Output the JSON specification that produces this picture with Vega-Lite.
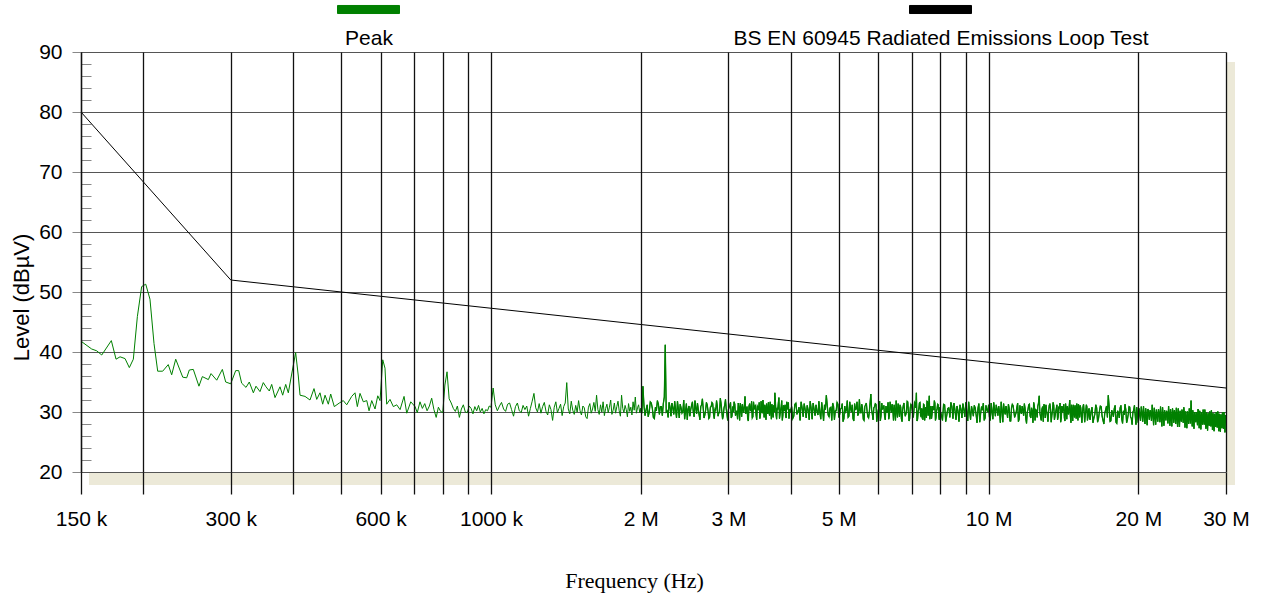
{
"$schema": "https://vega.github.io/schema/vega-lite/v6.json",
"width": 1145,
"height": 420,
"autosize": {"type": "none"},
"padding": {"left": 81, "top": 52, "right": 36, "bottom": 124},
"background": "white",
"datasets": {
"limit": [{"f":150,"v":80},{"f":300,"v":52},{"f":30000,"v":34}],
"peak": [
{"f":150,"v":41.8},{"f":157.6,"v":40.5},{"f":161.3,"v":40.2},{"f":165.1,"v":39.5},{"f":172.6,"v":41.9},{"f":176.4,"v":38.8},{"f":179.7,"v":39.2},{"f":183.9,"v":38.9},{"f":187.6,"v":37.4},{"f":191.1,"v":38.8},{"f":194.7,"v":45.9},{"f":198.6,"v":50.9},{"f":202.4,"v":51.3},{"f":206.4,"v":48.8},{"f":210.3,"v":41.4},{"f":213.9,"v":36.8},{"f":218.9,"v":36.8},{"f":224.6,"v":37.9},{"f":228.2,"v":36.2},{"f":232.5,"v":38.8},{"f":240.2,"v":35.8},{"f":244.6,"v":35.7},{"f":247.6,"v":37.0},{"f":252.2,"v":37.1},{"f":258.9,"v":34.3},{"f":263.0,"v":35.9},{"f":270.4,"v":35.4},{"f":273.8,"v":36.4},{"f":281.1,"v":35.3},{"f":288.5,"v":37.1},{"f":293.0,"v":35.0},{"f":299.9,"v":34.7},{"f":306.9,"v":36.9},{"f":311.2,"v":36.9},{"f":315.5,"v":34.8},{"f":321.9,"v":34.1},{"f":326.8,"v":35.0},{"f":333.0,"v":33.2},{"f":337.1,"v":34.3},{"f":343.4,"v":33.4},{"f":348.7,"v":34.9},{"f":353.1,"v":34.2},{"f":358.5,"v":33.5},{"f":362.5,"v":34.6},{"f":368.1,"v":32.4},{"f":376.7,"v":34.2},{"f":381.4,"v":32.8},{"f":386.8,"v":34.6},{"f":391.5,"v":33.2},{"f":398,"v":36.5},{"f":405,"v":39.9},{"f":410,"v":36.0},{"f":413.3,"v":32.8},{"f":423.0,"v":32.6},{"f":432.8,"v":32.0},{"f":440.9,"v":33.9},{"f":446.5,"v":32.1},{"f":453.3,"v":33.2},{"f":459.0,"v":31.3},{"f":464.0,"v":32.8},{"f":471.1,"v":31.3},{"f":476.3,"v":33.0},{"f":484.3,"v":30.9},{"f":495.7,"v":31.5},{"f":504.9,"v":31.9},{"f":513.0,"v":31.2},{"f":524.9,"v":32.6},{"f":533.0,"v":33.2},{"f":538.8,"v":30.9},{"f":545.5,"v":33.1},{"f":553.9,"v":31.7},{"f":562.8,"v":31.9},{"f":568.8,"v":30.2},{"f":575.9,"v":31.9},{"f":584.8,"v":30.5},{"f":592.2,"v":32.7},{"f":598.5,"v":31.9},{"f":606.0,"v":38.7},{"f":612.4,"v":37.3},{"f":617.2,"v":31.3},{"f":626.8,"v":32.1},{"f":636.5,"v":30.9},{"f":646.5,"v":31.2},{"f":656.6,"v":30.4},{"f":668.8,"v":32.6},{"f":677.2,"v":29.8},{"f":689.9,"v":31.7},{"f":703.7,"v":30.9},{"f":711,"v":29.9},
{"f":720,"v":31.7},{"f":728,"v":30.6},{"f":736,"v":31.4},{"f":744,"v":30.2},{"f":752,"v":31.0},{"f":760,"v":32.3},{"f":768,"v":30.4},{"f":776,"v":29.1},{"f":784,"v":30.8},{"f":792,"v":30.1},{"f":800,"v":29.9},{"f":808,"v":34.5},{"f":816,"v":36.7},{"f":824,"v":32.2},{"f":832,"v":31.5},{"f":840,"v":30.6},{"f":848,"v":30.1},{"f":856,"v":31.0},{"f":864,"v":29.1},{"f":872,"v":30.5},{"f":880,"v":31.2},{"f":888,"v":30.0},{"f":896,"v":29.9},{"f":904,"v":31.0},{"f":912,"v":30.6},{"f":920,"v":29.7},{"f":928,"v":30.9},{"f":936,"v":30.2},{"f":944,"v":31.1},{"f":952,"v":30.0},{"f":960,"v":30.6},{"f":968,"v":29.7},{"f":976,"v":30.4},{"f":984,"v":30.2},{"f":992,"v":31.0},
{"f":1000,"v":30.8},{"f":1010,"v":34.0},{"f":1020,"v":31.2},{"f":1030,"v":30.2},{"f":1040,"v":31.0},{"f":1050,"v":31.6},{"f":1060,"v":30.5},{"f":1070,"v":30.1},{"f":1080,"v":31.3},{"f":1090,"v":31.5},{"f":1100,"v":30.4},{"f":1110,"v":29.3},{"f":1120,"v":30.9},{"f":1130,"v":31.5},{"f":1140,"v":30.2},{"f":1150,"v":29.9},{"f":1160,"v":31.1},{"f":1170,"v":30.4},{"f":1180,"v":31.0},{"f":1190,"v":29.3},{"f":1200,"v":30.6},{"f":1210,"v":31.8},{"f":1220,"v":33.1},{"f":1230,"v":30.7},{"f":1240,"v":30.0},{"f":1250,"v":31.4},{"f":1260,"v":29.8},{"f":1270,"v":30.9},{"f":1280,"v":31.6},{"f":1290,"v":30.1},{"f":1300,"v":29.5},{"f":1310,"v":31.2},{"f":1320,"v":30.4},{"f":1330,"v":28.6},{"f":1340,"v":30.8},{"f":1350,"v":31.7},{"f":1360,"v":29.9},{"f":1370,"v":30.6},{"f":1380,"v":31.3},{"f":1390,"v":29.4},{"f":1400,"v":30.9},{"f":1410,"v":31.5},{"f":1420,"v":34.9},{"f":1430,"v":30.5},{"f":1440,"v":29.7},{"f":1450,"v":31.8},{"f":1460,"v":30.3},{"f":1470,"v":29.6},{"f":1480,"v":31.1},{"f":1490,"v":30.0},{"f":1500,"v":31.9},{"f":1510,"v":30.2},{"f":1520,"v":29.5},{"f":1530,"v":31.0},{"f":1540,"v":30.7},{"f":1550,"v":29.2},{"f":1560,"v":28.9},{"f":1570,"v":30.8},{"f":1580,"v":31.4},{"f":1590,"v":29.8},{"f":1600,"v":30.5},{"f":1610,"v":31.6},{"f":1620,"v":30.1},{"f":1630,"v":32.8},{"f":1640,"v":30.4},{"f":1650,"v":29.6},{"f":1660,"v":31.2},{"f":1670,"v":30.0},{"f":1680,"v":31.7},{"f":1690,"v":29.4},{"f":1700,"v":30.6},{"f":1710,"v":31.3},{"f":1720,"v":29.9},{"f":1730,"v":30.8},{"f":1740,"v":32.0},{"f":1750,"v":29.6},{"f":1760,"v":30.3},{"f":1770,"v":31.5},{"f":1780,"v":29.8},{"f":1790,"v":30.9},{"f":1800,"v":31.8},{"f":1810,"v":30.2},{"f":1820,"v":29.3},{"f":1830,"v":32.8},{"f":1840,"v":30.6},{"f":1850,"v":29.9},{"f":1860,"v":31.1},{"f":1870,"v":30.4},{"f":1880,"v":29.2},{"f":1890,"v":31.4},{"f":1900,"v":30.1},{"f":1910,"v":30.8},{"f":1920,"v":29.5},{"f":1930,"v":31.7},{"f":1940,"v":30.3},{"f":1950,"v":32.5},{"f":1960,"v":29.8},{"f":1970,"v":30.7},{"f":1980,"v":31.2},{"f":1990,"v":29.9},
{"f":2000,"v":30.6},{"f":2020,"v":34.3},{"f":2040,"v":29.4},{"f":2060,"v":31.2},{"f":2080,"v":30.0},{"f":2100,"v":31.5},{"f":2120,"v":29.1},{"f":2140,"v":30.8},{"f":2160,"v":31.9},{"f":2180,"v":29.6},{"f":2200,"v":30.9},{"f":2220,"v":31.4},{"f":2240,"v":41.2},{"f":2260,"v":30.2},{"f":2280,"v":31.6},{"f":2300,"v":29.3},{"f":2320,"v":30.7},{"f":2340,"v":31.8},{"f":2360,"v":29.0},{"f":2380,"v":30.5},{"f":2400,"v":31.3},{"f":2420,"v":29.8},{"f":2440,"v":32.0},{"f":2460,"v":30.1},{"f":2480,"v":28.7},{"f":2500,"v":31.0},{"f":2520,"v":30.4},{"f":2540,"v":31.7},{"f":2560,"v":29.2},{"f":2580,"v":30.6},{"f":2600,"v":31.5},{"f":2620,"v":29.5},{"f":2640,"v":30.9},{"f":2660,"v":32.2},{"f":2680,"v":29.0},{"f":2700,"v":30.3},{"f":2720,"v":31.2},{"f":2740,"v":28.9},{"f":2760,"v":30.8},{"f":2780,"v":31.6},{"f":2800,"v":29.7},{"f":2820,"v":30.5},{"f":2840,"v":31.9},{"f":2860,"v":29.3},{"f":2880,"v":30.0},{"f":2900,"v":31.4},{"f":2920,"v":28.8},{"f":2940,"v":30.7},{"f":2960,"v":32.1},{"f":2980,"v":29.6},{"f":3000,"v":30.4},{"f":3020,"v":31.1},{"f":3040,"v":29.0},{"f":3060,"v":30.9},{"f":3080,"v":31.7},{"f":3100,"v":29.4},{"f":3120,"v":30.2},{"f":3140,"v":31.5},{"f":3160,"v":28.6},{"f":3180,"v":30.6},{"f":3200,"v":31.3},{"f":3220,"v":29.9},{"f":3240,"v":32.6},{"f":3260,"v":30.1},{"f":3280,"v":28.9},{"f":3300,"v":31.0},{"f":3320,"v":30.3},{"f":3340,"v":31.8},{"f":3360,"v":29.2},{"f":3380,"v":30.5},{"f":3400,"v":31.2},{"f":3420,"v":28.7},{"f":3440,"v":30.8},{"f":3460,"v":31.6},{"f":3480,"v":29.5},{"f":3500,"v":30.2},{"f":3520,"v":32.0},{"f":3540,"v":29.1},{"f":3560,"v":30.6},{"f":3580,"v":31.4},{"f":3600,"v":29.7},{"f":3620,"v":30.0},{"f":3640,"v":31.7},{"f":3660,"v":28.8},{"f":3680,"v":30.4},{"f":3700,"v":31.1},{"f":3720,"v":33.2},{"f":3740,"v":29.6},{"f":3760,"v":30.7},{"f":3780,"v":31.5},{"f":3800,"v":28.9},{"f":3820,"v":30.3},{"f":3840,"v":31.9},{"f":3860,"v":29.4},{"f":3880,"v":30.8},{"f":3900,"v":31.2},{"f":3920,"v":29.0},{"f":3940,"v":30.5},{"f":3960,"v":31.6},{"f":3980,"v":29.7},
{"f":4000,"v":30.2},{"f":4040,"v":28.9},{"f":4080,"v":31.3},{"f":4120,"v":29.6},{"f":4160,"v":30.8},{"f":4200,"v":31.7},{"f":4240,"v":29.2},{"f":4280,"v":30.4},{"f":4320,"v":31.1},{"f":4360,"v":28.7},{"f":4400,"v":30.6},{"f":4440,"v":31.5},{"f":4480,"v":29.4},{"f":4520,"v":30.1},{"f":4560,"v":31.8},{"f":4600,"v":28.8},{"f":4640,"v":30.3},{"f":4680,"v":31.2},{"f":4720,"v":32.8},{"f":4760,"v":29.5},{"f":4800,"v":30.7},{"f":4840,"v":28.6},{"f":4880,"v":31.0},{"f":4920,"v":30.2},{"f":4960,"v":31.6},{"f":5000,"v":29.1},{"f":5040,"v":30.5},{"f":5080,"v":31.4},{"f":5120,"v":28.9},{"f":5160,"v":30.0},{"f":5200,"v":31.9},{"f":5240,"v":29.3},{"f":5280,"v":30.6},{"f":5320,"v":31.2},{"f":5360,"v":28.5},{"f":5400,"v":30.4},{"f":5440,"v":31.7},{"f":5480,"v":29.7},{"f":5520,"v":30.2},{"f":5560,"v":31.3},{"f":5600,"v":28.8},{"f":5640,"v":30.9},{"f":5680,"v":31.5},{"f":5720,"v":29.2},{"f":5760,"v":30.1},{"f":5800,"v":33.0},{"f":5840,"v":29.6},{"f":5880,"v":30.7},{"f":5920,"v":31.4},{"f":5960,"v":28.4},{"f":6000,"v":30.3},{"f":6040,"v":31.8},{"f":6080,"v":29.4},{"f":6120,"v":30.5},{"f":6160,"v":31.1},{"f":6200,"v":28.7},{"f":6240,"v":30.0},{"f":6280,"v":31.6},{"f":6320,"v":29.5},{"f":6360,"v":30.8},{"f":6400,"v":31.3},{"f":6440,"v":28.6},{"f":6480,"v":30.2},{"f":6520,"v":31.9},{"f":6560,"v":29.1},{"f":6600,"v":30.6},{"f":6640,"v":31.2},{"f":6680,"v":28.9},{"f":6720,"v":30.4},{"f":6760,"v":31.5},{"f":6800,"v":29.3},{"f":6840,"v":30.1},{"f":6880,"v":31.7},{"f":6920,"v":28.5},{"f":6960,"v":30.7},{"f":7000,"v":31.1},{"f":7040,"v":29.6},{"f":7080,"v":30.3},{"f":7120,"v":31.4},{"f":7160,"v":33.2},{"f":7200,"v":28.8},{"f":7240,"v":30.5},{"f":7280,"v":31.6},{"f":7320,"v":29.2},{"f":7360,"v":30.0},{"f":7400,"v":31.3},{"f":7440,"v":28.6},{"f":7480,"v":30.8},{"f":7520,"v":31.8},{"f":7560,"v":29.4},{"f":7600,"v":32.7},{"f":7640,"v":30.2},{"f":7680,"v":28.9},{"f":7720,"v":31.0},{"f":7760,"v":30.4},{"f":7800,"v":31.5},{"f":7840,"v":29.0},{"f":7880,"v":30.6},{"f":7920,"v":31.2},{"f":7960,"v":28.7},
{"f":8000,"v":30.1},{"f":8080,"v":28.6},{"f":8160,"v":31.2},{"f":8240,"v":29.4},{"f":8320,"v":30.7},{"f":8400,"v":31.6},{"f":8480,"v":28.9},{"f":8560,"v":30.3},{"f":8640,"v":31.0},{"f":8720,"v":28.4},{"f":8800,"v":30.5},{"f":8880,"v":31.4},{"f":8960,"v":29.2},{"f":9040,"v":30.0},{"f":9120,"v":31.7},{"f":9200,"v":28.7},{"f":9280,"v":30.2},{"f":9360,"v":31.1},{"f":9440,"v":29.5},{"f":9520,"v":30.6},{"f":9600,"v":28.3},{"f":9680,"v":30.9},{"f":9760,"v":31.5},{"f":9840,"v":29.0},{"f":9920,"v":30.4},{"f":10000,"v":31.2},{"f":10080,"v":28.6},{"f":10160,"v":30.1},{"f":10240,"v":31.6},{"f":10320,"v":29.3},{"f":10400,"v":30.5},{"f":10480,"v":31.0},{"f":10560,"v":28.2},{"f":10640,"v":30.3},{"f":10720,"v":31.4},{"f":10800,"v":29.6},{"f":10880,"v":30.0},{"f":10960,"v":31.3},{"f":11040,"v":28.5},{"f":11120,"v":30.7},{"f":11200,"v":31.1},{"f":11280,"v":29.1},{"f":11360,"v":29.9},{"f":11440,"v":31.5},{"f":11520,"v":28.8},{"f":11600,"v":30.2},{"f":11680,"v":31.0},{"f":11760,"v":29.4},{"f":11840,"v":30.6},{"f":11920,"v":28.1},{"f":12000,"v":30.4},{"f":12080,"v":31.3},{"f":12160,"v":29.0},{"f":12240,"v":30.1},{"f":12320,"v":31.6},{"f":12400,"v":28.6},{"f":12480,"v":30.3},{"f":12560,"v":31.0},{"f":12640,"v":32.7},{"f":12720,"v":29.2},{"f":12800,"v":30.5},{"f":12880,"v":28.4},{"f":12960,"v":30.8},{"f":13040,"v":31.2},{"f":13120,"v":29.5},{"f":13200,"v":30.0},{"f":13280,"v":31.4},{"f":13360,"v":28.3},{"f":13440,"v":30.2},{"f":13520,"v":31.1},{"f":13600,"v":29.3},{"f":13680,"v":30.6},{"f":13760,"v":28.7},{"f":13840,"v":30.9},{"f":13920,"v":31.5},{"f":14000,"v":29.0},{"f":14080,"v":30.1},{"f":14160,"v":31.3},{"f":14240,"v":28.5},{"f":14320,"v":30.4},{"f":14400,"v":31.0},{"f":14480,"v":29.6},{"f":14560,"v":32.0},{"f":14640,"v":28.2},{"f":14720,"v":30.3},{"f":14800,"v":31.2},{"f":14880,"v":29.1},{"f":14960,"v":30.0},{"f":15040,"v":31.4},{"f":15120,"v":28.6},{"f":15200,"v":30.5},{"f":15280,"v":31.1},{"f":15360,"v":29.4},{"f":15440,"v":29.8},{"f":15520,"v":31.3},{"f":15600,"v":28.3},{"f":15680,"v":30.2},{"f":15760,"v":30.9},{"f":15840,"v":29.2},{"f":15920,"v":30.6},
{"f":16000,"v":28.7},{"f":16140,"v":30.8},{"f":16280,"v":29.0},{"f":16420,"v":31.2},{"f":16560,"v":28.3},{"f":16700,"v":30.1},{"f":16840,"v":30.9},{"f":16980,"v":28.6},{"f":17120,"v":29.8},{"f":17260,"v":31.0},{"f":17400,"v":32.8},{"f":17540,"v":28.4},{"f":17680,"v":30.3},{"f":17820,"v":29.2},{"f":17960,"v":31.1},{"f":18100,"v":28.1},{"f":18240,"v":29.9},{"f":18380,"v":30.7},{"f":18520,"v":28.8},{"f":18660,"v":30.2},{"f":18800,"v":31.3},{"f":18940,"v":28.2},{"f":19080,"v":29.6},{"f":19220,"v":30.8},{"f":19360,"v":28.9},{"f":19500,"v":30.0},{"f":19640,"v":31.1},{"f":19780,"v":27.9},{"f":19920,"v":29.5},{"f":20060,"v":30.6},{"f":20200,"v":28.5},{"f":20340,"v":29.8},{"f":20480,"v":31.0},{"f":20620,"v":28.0},{"f":20760,"v":29.4},{"f":20900,"v":30.5},{"f":21040,"v":28.7},{"f":21180,"v":29.9},{"f":21320,"v":31.2},{"f":21460,"v":27.8},{"f":21600,"v":29.3},{"f":21740,"v":30.4},{"f":21880,"v":28.4},{"f":22020,"v":29.7},{"f":22160,"v":30.9},{"f":22300,"v":27.6},{"f":22440,"v":29.2},{"f":22580,"v":30.3},{"f":22720,"v":28.6},{"f":22860,"v":29.8},{"f":23000,"v":31.0},{"f":23140,"v":27.7},{"f":23280,"v":29.1},{"f":23420,"v":30.6},{"f":23560,"v":28.2},{"f":23700,"v":29.5},{"f":23840,"v":30.7},{"f":23980,"v":27.5},{"f":24120,"v":29.0},{"f":24260,"v":30.2},{"f":24400,"v":28.4},{"f":24540,"v":29.6},{"f":24680,"v":30.8},{"f":24820,"v":27.4},{"f":24960,"v":28.9},{"f":25100,"v":30.1},{"f":25240,"v":28.0},{"f":25380,"v":29.4},{"f":25520,"v":31.9},{"f":25660,"v":27.6},{"f":25800,"v":28.8},{"f":25940,"v":30.0},{"f":26080,"v":28.3},{"f":26220,"v":29.2},{"f":26360,"v":30.5},{"f":26500,"v":27.3},{"f":26640,"v":28.7},{"f":26780,"v":29.9},{"f":26920,"v":27.9},{"f":27060,"v":29.1},{"f":27200,"v":30.4},{"f":27340,"v":27.2},{"f":27480,"v":28.6},{"f":27620,"v":29.8},{"f":27760,"v":27.7},{"f":27900,"v":28.9},{"f":28040,"v":30.3},{"f":28180,"v":27.0},{"f":28320,"v":28.5},{"f":28460,"v":29.7},{"f":28600,"v":27.5},{"f":28740,"v":28.8},{"f":28880,"v":30.1},{"f":29020,"v":26.8},{"f":29160,"v":28.4},{"f":29300,"v":29.6},{"f":29440,"v":27.3},{"f":29580,"v":28.7},{"f":29720,"v":30.0},{"f":29860,"v":26.6},{"f":30000,"v":28.2},
{"f":2010,"v":29.8},{"f":2030,"v":31.0},{"f":2050,"v":30.4},{"f":2070,"v":29.2},{"f":2090,"v":31.7},{"f":2110,"v":30.6},{"f":2130,"v":28.9},{"f":2150,"v":30.2},{"f":2170,"v":31.3},{"f":2190,"v":30.9},{"f":2210,"v":29.4},{"f":2230,"v":32.5},{"f":2250,"v":30.0},{"f":2270,"v":29.1},{"f":2290,"v":30.8},{"f":2310,"v":31.5},{"f":2330,"v":29.6},{"f":2350,"v":30.3},{"f":2370,"v":31.8},{"f":2390,"v":29.0},{"f":2410,"v":30.7},{"f":2430,"v":30.1},{"f":2450,"v":28.8},{"f":2470,"v":31.4},{"f":2490,"v":30.5},{"f":2510,"v":29.3},{"f":2530,"v":31.1},{"f":2550,"v":30.0},{"f":2570,"v":31.9},{"f":2590,"v":29.7},{"f":2610,"v":30.4},{"f":2630,"v":28.7},{"f":2650,"v":31.2},{"f":2670,"v":30.6},{"f":2690,"v":29.5},{"f":2710,"v":31.6},{"f":2730,"v":30.2},{"f":2750,"v":29.1},{"f":2770,"v":30.9},{"f":2790,"v":31.4},{"f":2810,"v":28.9},{"f":2830,"v":30.3},{"f":2850,"v":31.0},{"f":2870,"v":29.8},{"f":2890,"v":32.3},{"f":2910,"v":30.1},{"f":2930,"v":29.4},{"f":2950,"v":31.2},{"f":2970,"v":30.5},{"f":2990,"v":28.6},{"f":3010,"v":30.8},{"f":3030,"v":31.6},{"f":3050,"v":29.3},{"f":3070,"v":30.0},{"f":3090,"v":31.3},{"f":3110,"v":29.9},{"f":3130,"v":28.8},{"f":3150,"v":30.7},{"f":3170,"v":31.5},{"f":3190,"v":29.2},{"f":3210,"v":30.4},{"f":3230,"v":31.1},{"f":3250,"v":29.7},{"f":3270,"v":30.9},{"f":3290,"v":28.5},{"f":3310,"v":31.4},{"f":3330,"v":30.2},{"f":3350,"v":29.0},{"f":3370,"v":31.7},{"f":3390,"v":30.6},{"f":3410,"v":29.5},{"f":3430,"v":31.0},{"f":3450,"v":30.3},{"f":3470,"v":28.9},{"f":3490,"v":31.8},{"f":3510,"v":29.8},{"f":3530,"v":30.5},{"f":3550,"v":31.2},{"f":3570,"v":28.7},{"f":3590,"v":30.1},{"f":3610,"v":31.6},{"f":3630,"v":29.4},{"f":3650,"v":30.8},{"f":3670,"v":31.3},{"f":3690,"v":29.1},{"f":3710,"v":30.0},{"f":3730,"v":31.5},{"f":3750,"v":28.8},{"f":3770,"v":30.4},{"f":3790,"v":32.4},{"f":3810,"v":29.6},{"f":3830,"v":30.9},{"f":3850,"v":28.6},{"f":3870,"v":31.1},{"f":3890,"v":30.2},{"f":3910,"v":29.3},{"f":3930,"v":31.7},{"f":3950,"v":30.6},{"f":3970,"v":28.9},{"f":3990,"v":30.5},
{"f":4020,"v":30.9},{"f":4060,"v":29.3},{"f":4100,"v":31.5},{"f":4140,"v":30.1},{"f":4180,"v":28.6},{"f":4220,"v":30.7},{"f":4260,"v":31.4},{"f":4300,"v":29.0},{"f":4340,"v":30.3},{"f":4380,"v":31.8},{"f":4420,"v":28.8},{"f":4460,"v":30.5},{"f":4500,"v":31.2},{"f":4540,"v":29.5},{"f":4580,"v":30.0},{"f":4620,"v":31.6},{"f":4660,"v":28.5},{"f":4700,"v":30.4},{"f":4740,"v":31.1},{"f":4780,"v":29.2},{"f":4820,"v":30.8},{"f":4860,"v":31.5},{"f":4900,"v":28.7},{"f":4940,"v":30.2},{"f":4980,"v":31.3},{"f":5020,"v":29.6},{"f":5060,"v":30.6},{"f":5100,"v":28.4},{"f":5140,"v":31.0},{"f":5180,"v":30.3},{"f":5220,"v":29.1},{"f":5260,"v":31.7},{"f":5300,"v":30.0},{"f":5340,"v":28.9},{"f":5380,"v":31.4},{"f":5420,"v":30.5},{"f":5460,"v":29.4},{"f":5500,"v":32.1},{"f":5540,"v":29.8},{"f":5580,"v":30.7},{"f":5620,"v":28.6},{"f":5660,"v":31.2},{"f":5700,"v":30.1},{"f":5740,"v":29.0},{"f":5780,"v":31.6},{"f":5820,"v":30.4},{"f":5860,"v":28.7},{"f":5900,"v":30.9},{"f":5940,"v":31.3},{"f":5980,"v":29.5},{"f":6020,"v":30.2},{"f":6060,"v":28.5},{"f":6100,"v":31.5},{"f":6140,"v":30.6},{"f":6180,"v":29.3},{"f":6220,"v":31.0},{"f":6260,"v":30.0},{"f":6300,"v":28.8},{"f":6340,"v":31.7},{"f":6380,"v":29.9},{"f":6420,"v":30.5},{"f":6460,"v":31.2},{"f":6500,"v":28.6},{"f":6540,"v":30.3},{"f":6580,"v":31.4},{"f":6620,"v":29.2},{"f":6660,"v":30.8},{"f":6700,"v":28.4},{"f":6740,"v":31.1},{"f":6780,"v":30.2},{"f":6820,"v":29.6},{"f":6860,"v":31.8},{"f":6900,"v":30.0},{"f":6940,"v":28.9},{"f":6980,"v":31.3},{"f":7020,"v":30.4},{"f":7060,"v":29.1},{"f":7100,"v":31.6},{"f":7140,"v":30.7},{"f":7180,"v":28.5},{"f":7220,"v":30.1},{"f":7260,"v":31.5},{"f":7300,"v":29.4},{"f":7340,"v":30.6},{"f":7380,"v":28.7},{"f":7420,"v":31.2},{"f":7460,"v":30.3},{"f":7500,"v":29.0},{"f":7540,"v":31.7},{"f":7580,"v":30.5},{"f":7620,"v":28.8},{"f":7660,"v":31.0},{"f":7700,"v":29.7},{"f":7740,"v":30.4},{"f":7780,"v":31.9},{"f":7820,"v":28.6},{"f":7860,"v":30.2},{"f":7900,"v":31.3},{"f":7940,"v":29.3},{"f":7980,"v":30.8},
{"f":8040,"v":29.5},{"f":8120,"v":31.3},{"f":8200,"v":28.4},{"f":8280,"v":30.6},{"f":8360,"v":29.1},{"f":8440,"v":30.9},{"f":8520,"v":31.5},{"f":8600,"v":28.7},{"f":8680,"v":30.2},{"f":8760,"v":31.2},{"f":8840,"v":29.0},{"f":8920,"v":30.4},{"f":9000,"v":31.6},{"f":9080,"v":28.5},{"f":9160,"v":30.1},{"f":9240,"v":31.0},{"f":9320,"v":29.3},{"f":9400,"v":30.7},{"f":9480,"v":28.2},{"f":9560,"v":31.4},{"f":9640,"v":29.8},{"f":9720,"v":30.3},{"f":9800,"v":28.6},{"f":9880,"v":31.1},{"f":9960,"v":30.0},{"f":10040,"v":29.2},{"f":10120,"v":31.5},{"f":10200,"v":28.8},{"f":10280,"v":30.5},{"f":10360,"v":31.2},{"f":10440,"v":29.4},{"f":10520,"v":30.0},{"f":10600,"v":31.7},{"f":10680,"v":28.3},{"f":10760,"v":30.2},{"f":10840,"v":31.0},{"f":10920,"v":29.0},{"f":11000,"v":30.6},{"f":11080,"v":28.5},{"f":11160,"v":31.3},{"f":11240,"v":30.1},{"f":11320,"v":29.5},{"f":11400,"v":30.8},{"f":11480,"v":28.4},{"f":11560,"v":31.1},{"f":11640,"v":29.7},{"f":11720,"v":30.3},{"f":11800,"v":31.4},{"f":11880,"v":28.9},{"f":11960,"v":30.0},{"f":12040,"v":31.2},{"f":12120,"v":29.3},{"f":12200,"v":30.7},{"f":12280,"v":28.2},{"f":12360,"v":31.0},{"f":12440,"v":30.4},{"f":12520,"v":29.1},{"f":12600,"v":31.5},{"f":12680,"v":29.8},{"f":12760,"v":28.6},{"f":12840,"v":30.9},{"f":12920,"v":31.3},{"f":13000,"v":29.0},{"f":13080,"v":30.2},{"f":13160,"v":28.4},{"f":13240,"v":31.1},{"f":13320,"v":30.5},{"f":13400,"v":29.4},{"f":13480,"v":31.6},{"f":13560,"v":28.7},{"f":13640,"v":30.0},{"f":13720,"v":31.2},{"f":13800,"v":29.2},{"f":13880,"v":30.6},{"f":13960,"v":28.3},{"f":14040,"v":31.0},{"f":14120,"v":30.3},{"f":14200,"v":29.0},{"f":14280,"v":31.4},{"f":14360,"v":28.8},{"f":14440,"v":30.1},{"f":14520,"v":30.9},{"f":14600,"v":29.3},{"f":14680,"v":31.2},{"f":14760,"v":28.5},{"f":14840,"v":30.4},{"f":14920,"v":31.1},{"f":15000,"v":28.9},{"f":15080,"v":30.2},{"f":15160,"v":31.3},{"f":15240,"v":29.1},{"f":15320,"v":30.7},{"f":15400,"v":28.2},{"f":15480,"v":30.9},{"f":15560,"v":30.0},{"f":15640,"v":29.4},{"f":15720,"v":31.2},{"f":15800,"v":28.6},{"f":15880,"v":30.3},{"f":15960,"v":29.0},
{"f":16070,"v":30.1},{"f":16210,"v":28.2},{"f":16350,"v":29.6},{"f":16490,"v":30.7},{"f":16630,"v":28.9},{"f":16770,"v":31.0},{"f":16910,"v":29.3},{"f":17050,"v":28.0},{"f":17190,"v":30.4},{"f":17330,"v":29.1},{"f":17470,"v":30.9},{"f":17610,"v":28.5},{"f":17750,"v":29.8},{"f":17890,"v":30.6},{"f":18030,"v":28.3},{"f":18170,"v":30.2},{"f":18310,"v":29.0},{"f":18450,"v":31.1},{"f":18590,"v":28.1},{"f":18730,"v":29.5},{"f":18870,"v":30.4},{"f":19010,"v":28.7},{"f":19150,"v":30.9},{"f":19290,"v":29.2},{"f":19430,"v":27.9},{"f":19570,"v":30.3},{"f":19710,"v":29.4},{"f":19850,"v":30.8},{"f":19990,"v":28.2},{"f":20130,"v":29.7},{"f":20270,"v":30.9},{"f":20410,"v":28.4},{"f":20550,"v":29.3},{"f":20690,"v":30.6},{"f":20830,"v":27.8},{"f":20970,"v":29.9},{"f":21110,"v":30.3},{"f":21250,"v":28.5},{"f":21390,"v":29.6},{"f":21530,"v":30.7},{"f":21670,"v":27.9},{"f":21810,"v":29.4},{"f":21950,"v":30.5},{"f":22090,"v":28.3},{"f":22230,"v":29.1},{"f":22370,"v":30.8},{"f":22510,"v":27.7},{"f":22650,"v":29.5},{"f":22790,"v":30.2},{"f":22930,"v":28.1},{"f":23070,"v":29.3},{"f":23210,"v":30.5},{"f":23350,"v":27.6},{"f":23490,"v":29.8},{"f":23630,"v":30.3},{"f":23770,"v":28.0},{"f":23910,"v":29.2},{"f":24050,"v":30.6},{"f":24190,"v":27.5},{"f":24330,"v":29.0},{"f":24470,"v":30.4},{"f":24610,"v":28.2},{"f":24750,"v":29.7},{"f":24890,"v":30.1},{"f":25030,"v":27.3},{"f":25170,"v":29.1},{"f":25310,"v":30.6},{"f":25450,"v":28.1},{"f":25590,"v":29.5},{"f":25730,"v":30.3},{"f":25870,"v":27.2},{"f":26010,"v":28.9},{"f":26150,"v":30.0},{"f":26290,"v":27.8},{"f":26430,"v":29.4},{"f":26570,"v":30.2},{"f":26710,"v":27.1},{"f":26850,"v":28.6},{"f":26990,"v":30.4},{"f":27130,"v":27.9},{"f":27270,"v":28.8},{"f":27410,"v":29.9},{"f":27550,"v":26.9},{"f":27690,"v":28.5},{"f":27830,"v":30.1},{"f":27970,"v":27.6},{"f":28110,"v":29.0},{"f":28250,"v":29.8},{"f":28390,"v":26.8},{"f":28530,"v":28.3},{"f":28670,"v":30.0},{"f":28810,"v":27.4},{"f":28950,"v":28.9},{"f":29090,"v":29.7},{"f":29230,"v":26.7},{"f":29370,"v":28.2},{"f":29510,"v":29.9},{"f":29650,"v":27.2},{"f":29790,"v":28.6},{"f":29930,"v":29.5}
]
},
"layer": [
{
"data": {"values": [{}]},
"mark": {"type": "rect", "color": "#ECE9D8", "x2Offset": 9, "yOffset": 10, "y2Offset": 13},
"encoding": {"x": {"datum": 30000}, "x2": {"datum": 30000}, "y": {"datum": 90}, "y2": {"datum": 20}}
},
{
"data": {"values": [{}]},
"mark": {"type": "rect", "color": "#ECE9D8", "xOffset": 8, "x2Offset": 9, "yOffset": 1, "y2Offset": 13},
"encoding": {"x": {"datum": 150}, "x2": {"datum": 30000}, "y": {"datum": 20}, "y2": {"datum": 20}}
},
{
"data": {"name": "peak"},
"transform": [{"filter": "datum.f >= 1990"}],
"mark": {"type": "line", "strokeWidth": 1.3, "color": "#008000", "clip": true},
"encoding": {
"x": {"field": "f", "type": "quantitative"},
"y": {"field": "v", "type": "quantitative"}
}
},
{
"data": {"name": "peak"},
"mark": {"type": "line", "strokeWidth": 1, "clip": true, "interpolate": "linear"},
"encoding": {
"x": {"field": "f", "type": "quantitative",
"scale": {"type": "log", "domain": [150, 30000], "nice": false},
"axis": {
"values": [150,200,300,400,500,600,700,800,900,1000,2000,3000,4000,5000,6000,7000,8000,9000,10000,20000,30000],
"tickCount": 200,
"labelExpr": "indexof([150,300,600,1000,2000,3000,5000,10000,20000,30000], datum.value) >= 0 ? (datum.value < 2000 ? datum.value + ' k' : (datum.value / 1000) + ' M') : ''",
"grid": true, "gridColor": "#111", "gridWidth": 1.3, "gridOpacity": 1,
"ticks": true, "tickSize": 22, "tickColor": "#111", "tickWidth": 1.3,
"domain": false,
"labelFont": "Liberation Sans", "labelFontSize": 21, "labelColor": "#000", "labelPadding": 14,
"labelFlush": false, "labelOverlap": false, "labelBound": false,
"title": "Frequency (Hz)", "titleFont": "Liberation Serif", "titleFontSize": 22, "titleFontWeight": "normal", "titleColor": "#000",
"titleX": 553, "titleY": 115, "titleBaseline": "alphabetic", "titleAlign": "center",
"zindex": 1
}},
"y": {"field": "v", "type": "quantitative",
"scale": {"domain": [20, 90], "nice": false, "zero": false},
"axis": {
"values": [20,22,24,26,28,30,32,34,36,38,40,42,44,46,48,50,52,54,56,58,60,62,64,66,68,70,72,74,76,78,80,82,84,86,88,90],
"tickCount": 200,
"labelExpr": "datum.value % 10 === 0 ? datum.value : ''",
"grid": true, "gridColor": "#555", "gridWidth": 1,
"gridOpacity": {"condition": {"test": "datum.value % 10 === 0", "value": 1}, "value": 0},
"tickSize": {"condition": {"test": "datum.value % 10 === 0", "value": 9}, "value": -10},
"tickColor": "#888", "tickWidth": 1,
"domain": true, "domainColor": "#000", "domainWidth": 1.3,
"labelFont": "Liberation Sans", "labelFontSize": 21, "labelColor": "#000", "labelPadding": 10,
"labelFlush": false, "labelOverlap": false, "labelBound": false,
"title": "Level (dBµV)", "titleFont": "Liberation Sans", "titleFontSize": 22, "titleFontWeight": "normal", "titleColor": "#000",
"titleX": -53, "titleY": 245, "titleBaseline": "alphabetic", "titleAlign": "center", "titleAngle": 270,
"zindex": 0
}},
"stroke": {"datum": "Peak", "scale": {"range": ["#008000"]},
"legend": {"orient": "none", "legendX": 256, "legendY": -74, "title": null, "padding": 0,
"symbolType": "M-1,-0.13H1V0.13H-1Z", "symbolSize": 3844, "symbolStrokeWidth": 1,
"labelFont": "Liberation Sans", "labelFontSize": 21, "labelColor": "#000", "labelAlign": "center", "labelBaseline": "middle", "labelOffset": -31, "labelLimit": 1000,
"encode": {"labels": {"update": {"dy": {"value": 29}}}, "symbols": {"update": {"fill": {"value": "#008000"}, "stroke": {"value": "#333"}, "strokeWidth": {"value": 1}, "opacity": {"value": 1}}}}}}
}
},
{
"data": {"name": "limit"},
"mark": {"type": "line", "strokeWidth": 1},
"encoding": {
"x": {"field": "f", "type": "quantitative"},
"y": {"field": "v", "type": "quantitative"},
"stroke": {"datum": "BS EN 60945 Radiated Emissions Loop Test", "scale": {"range": ["#000000"]},
"legend": {"orient": "none", "legendX": 828, "legendY": -74, "title": null, "padding": 0,
"symbolType": "M-1,-0.13H1V0.13H-1Z", "symbolSize": 3844, "symbolStrokeWidth": 1,
"labelFont": "Liberation Sans", "labelFontSize": 21, "labelColor": "#000", "labelAlign": "center", "labelBaseline": "middle", "labelOffset": -31, "labelLimit": 1000,
"encode": {"labels": {"update": {"dy": {"value": 29}}}, "symbols": {"update": {"fill": {"value": "#000000"}, "stroke": {"value": "#000"}, "strokeWidth": {"value": 1}, "opacity": {"value": 1}}}}}}
}
}
],
"resolve": {"scale": {"stroke": "independent"}, "legend": {"stroke": "independent"}},
"config": {"view": {"stroke": null}, "axis": {"titleFontWeight": "normal"}}
}
